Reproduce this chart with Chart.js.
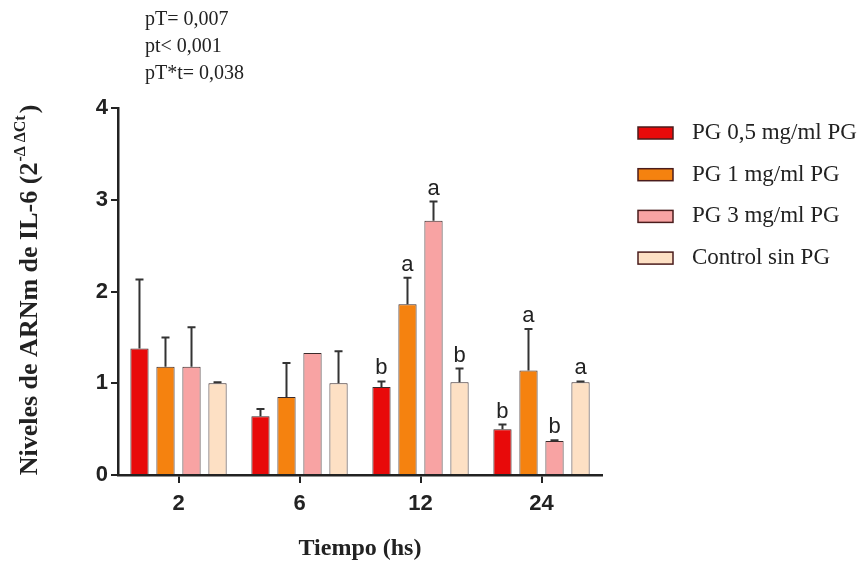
<!DOCTYPE html>
<html>
<head>
<meta charset="utf-8">
<script src="https://cdn.jsdelivr.net/npm/chart.js@4"></script>
<style>
  body { margin: 0; background: #fff; }
  canvas { display: block; }
</style>
</head>
<body>
<canvas id="chart" width="858" height="565"></canvas>
<script>
// data
var timeLabels = ['2', '6', '12', '24'];
var seriesNames = ['PG 0,5 mg/ml PG', 'PG 1 mg/ml PG', 'PG 3 mg/ml PG', 'Control sin PG'];
var pg05 = [1.38, 0.64, 0.96, 0.50];
var pg1 = [1.18, 0.85, 1.86, 1.14];
var pg3 = [1.18, 1.33, 2.77, 0.37];
var control = [1.00, 1.00, 1.01, 1.01];
var pg05Sd = [0.75, 0.08, 0.06, 0.05];
var pg1Sd = [0.32, 0.37, 0.29, 0.45];
var pg3Sd = [0.43, 0, 0.21, 0.01];
var controlSd = [0.01, 0.35, 0.15, 0.01];
var pg05Letters = ['', '', 'b', 'b'];
var pg1Letters = ['', '', 'a', 'a'];
var pg3Letters = ['', '', 'a', 'b'];
var controlLetters = ['', '', 'b', 'a'];
var statLines = ['pT= 0,007', 'pt< 0,001', 'pT*t= 0,038'];

var colors = ['#e80a0a', '#f5820f', '#f8a3a3', '#fde0c4'];
var sds = [pg05Sd, pg1Sd, pg3Sd, controlSd];
var letters = [pg05Letters, pg1Letters, pg3Letters, controlLetters];

var errorBars = {
    id: 'errorBars',
    afterDatasetsDraw: function (chart) {
        var ctx = chart.ctx;
        var yScale = chart.scales.y;
        ctx.save();
        ctx.strokeStyle = '#333';
        ctx.lineWidth = 2;
        ctx.fillStyle = '#222';
        ctx.font = '22px "Liberation Sans", Arial, sans-serif';
        ctx.textAlign = 'center';
        ctx.textBaseline = 'alphabetic';
        chart.data.datasets.forEach(function (ds, i) {
            var meta = chart.getDatasetMeta(i);
            meta.data.forEach(function (bar, j) {
                var top = yScale.getPixelForValue(ds.data[j] + sds[i][j]);
                if (sds[i][j] > 0) {
                    ctx.beginPath();
                    ctx.moveTo(bar.x, bar.y);
                    ctx.lineTo(bar.x, top);
                    ctx.moveTo(bar.x - 4, top);
                    ctx.lineTo(bar.x + 4, top);
                    ctx.stroke();
                }
                if (letters[i][j]) {
                    ctx.fillText(letters[i][j], bar.x, top - 7);
                }
            });
        });
        ctx.restore();
    }
};

var extraText = {
    id: 'extraText',
    afterDraw: function (chart) {
        var ctx = chart.ctx;
        ctx.save();
        ctx.fillStyle = '#222';
        // p values
        ctx.font = '20px "Liberation Serif", "Times New Roman", serif';
        ctx.textAlign = 'left';
        ctx.textBaseline = 'middle';
        statLines.forEach(function (t, k) {
            ctx.fillText(t, 145, 20 + k * 27);
        });

        // legend
        seriesNames.forEach(function (name, k) {
            var cy = 133 + k * 41.7;
            ctx.fillStyle = colors[k];
            ctx.fillRect(638, cy - 6, 35, 12);
            ctx.strokeStyle = '#4a1c1c';
            ctx.lineWidth = 1.5;
            ctx.strokeRect(638, cy - 6, 35, 12);
            ctx.fillStyle = '#222';
            ctx.font = '23px "Liberation Serif", "Times New Roman", serif';
            ctx.fillText(name, 692, cy);
        });

        // x title
        ctx.font = 'bold 24px "Liberation Serif", "Times New Roman", serif';
        ctx.textAlign = 'center';
        ctx.fillText('Tiempo (hs)', 360, 549);

        // y title with superscript
        var main = 'Niveles de ARNm de IL-6 (2';
        var sup = '-\u0394 \u0394Ct';
        var close = ')';
        var fMain = 'bold 26px "Liberation Serif", "Times New Roman", serif';
        var fSup = 'bold 16px "Liberation Serif", "Times New Roman", serif';
        ctx.font = fMain;
        var wMain = ctx.measureText(main).width;
        var wClose = ctx.measureText(close).width;
        ctx.font = fSup;
        var wSup = ctx.measureText(sup).width;
        var total = wMain + wSup + wClose + 3;
        ctx.translate(30, 290);
        ctx.rotate(-Math.PI / 2);
        ctx.textAlign = 'left';
        ctx.textBaseline = 'middle';
        var x0 = -total / 2;
        ctx.font = fMain;
        ctx.fillText(main, x0, 0);
        ctx.font = fSup;
        ctx.fillText(sup, x0 + wMain + 1, -9);
        ctx.font = fMain;
        ctx.fillText(close, x0 + wMain + wSup + 3, 0);
        ctx.restore();
    }
};

var datasets = [pg05, pg1, pg3, control].map(function (vals, i) {
    return {
        label: seriesNames[i],
        data: vals,
        backgroundColor: colors[i],
        borderColor: '#3a2a2a',
        borderWidth: 1,
        categoryPercentage: 0.86,
        barPercentage: 0.7
    };
});

var tickFont = { family: '"Liberation Sans", Arial, sans-serif', size: 22, weight: 'bold' };

new Chart(document.getElementById('chart'), {
    type: 'bar',
    data: { labels: timeLabels, datasets: datasets },
    options: {
        responsive: false,
        animation: false,
        layout: { padding: { left: 0, right: 256, top: 108, bottom: 0 } },
        plugins: {
            legend: { display: false },
            tooltip: { enabled: false }
        },
        scales: {
            x: {
                offset: true,
                grid: { display: true, drawOnChartArea: false, drawTicks: true, tickLength: 8, color: '#222', lineWidth: 2, offset: false },
                border: { color: '#222', width: 2.5 },
                ticks: { color: '#222', font: tickFont, padding: 8 },
                afterFit: function (scale) { scale.height = 90; }
            },
            y: {
                min: 0,
                max: 4,
                ticks: { stepSize: 1, color: '#222', font: tickFont, padding: 3 },
                grid: { display: true, drawOnChartArea: false, drawTicks: true, tickLength: 7, color: '#222', lineWidth: 2 },
                border: { color: '#222', width: 2.5 },
                afterFit: function (scale) { scale.width = 118; }
            }
        }
    },
    plugins: [errorBars, extraText]
});
</script>
</body>
</html>
